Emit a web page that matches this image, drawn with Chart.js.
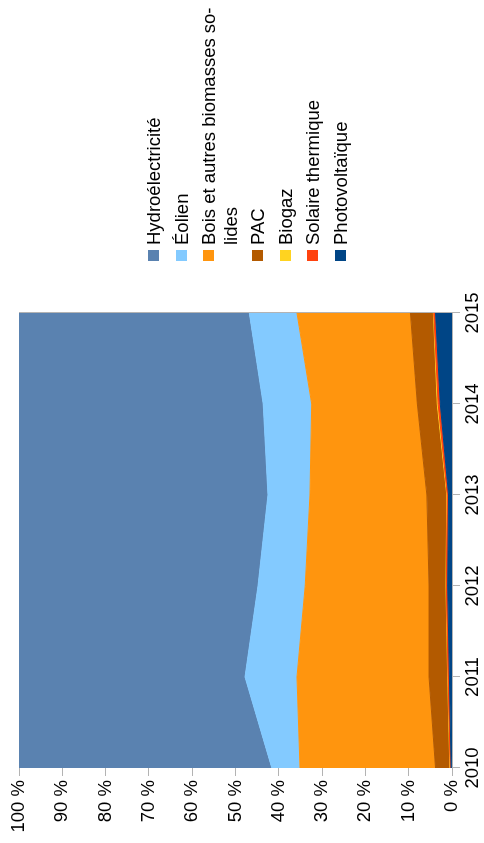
<!DOCTYPE html>
<html>
<head>
<meta charset="utf-8">
<script src="https://cdn.jsdelivr.net/npm/chart.js@4"></script>
<style>
  html, body { margin: 0; padding: 0; background: #fff; overflow: hidden; }
  body { width: 484px; height: 843px; position: relative; }
  #wrap {
    position: absolute; left: 0; top: 0;
    width: 843px; height: 484px;
    transform-origin: 0 0;
    transform: translate(0, 843px) rotate(-90deg);
    font-family: "Liberation Sans", Arial, sans-serif;
  }
  #legend { position: absolute; left: 582px; top: 143px; width: 261px; }
  .item { display: flex; align-items: flex-start; margin-bottom: 6px; }
  .box { width: 11px; height: 11px; flex: none; margin-top: 5px; margin-right: 5px; }
  .txt { width: 240px; font-size: 18.5px; line-height: 21.5px; color: #000; }
</style>
</head>
<body>
<div id="wrap">
  <canvas id="myChart" width="843" height="484"></canvas>
  <div id="legend"></div>
</div>
<script>
const years = ['2010', '2011', '2012', '2013', '2014', '2015'];
const hydro = [58.4, 52.2, 55.2, 57.5, 56.4, 53.2];
const eolien = [6.5, 12.0, 10.9, 9.7, 11.2, 11.0];
const bois = [31.3, 30.5, 28.6, 27.0, 24.4, 26.2];
const pac = [3.3, 4.3, 3.9, 4.6, 4.6, 5.3];
const biogaz = [0.1, 0.1, 0.1, 0.1, 0.2, 0.1];
const solaire = [0.2, 0.3, 0.3, 0.3, 0.5, 0.4];
const photovoltaique = [0.2, 0.6, 1.0, 0.8, 2.7, 3.8];

// bottom of the stack first
const series = [
  { label: 'Photovoltaïque', data: photovoltaique, color: '#004586' },
  { label: 'Solaire thermique', data: solaire, color: '#ff420e' },
  { label: 'Biogaz', data: biogaz, color: '#ffd320' },
  { label: 'PAC', data: pac, color: '#b35a00' },
  { label: 'Bois et autres biomasses so\u00ADlides', data: bois, color: '#ff950e' },
  { label: 'Éolien', data: eolien, color: '#83caff' },
  { label: 'Hydroélectricité', data: hydro, color: '#5a82b0' }
];

Chart.defaults.font.family = '"Liberation Sans", Arial, sans-serif';
Chart.defaults.font.size = 18.5;
Chart.defaults.color = '#000';

const ctx = document.getElementById('myChart');
new Chart(ctx, {
  type: 'line',
  data: {
    labels: years,
    datasets: series.map((s, i) => ({
      label: s.label,
      data: s.data,
      backgroundColor: s.color,
      borderColor: s.color,
      borderWidth: 1,
      pointRadius: 0,
      tension: 0,
      fill: i === 0 ? 'origin' : '-1'
    }))
  },
  options: {
    responsive: false,
    animation: false,
    layout: { padding: { top: 19, right: 313, left: 0, bottom: 0 } },
    plugins: { legend: { display: false }, tooltip: { enabled: false } },
    scales: {
      x: {
        offset: false,
        grid: { color: '#b3b3b3', tickLength: 8 },
        border: { color: '#b3b3b3' },
        ticks: { padding: 2, maxRotation: 0 },
        afterFit: s => { s.height = 32; }
      },
      y: {
        stacked: true,
        min: 0,
        max: 100,
        grid: { color: '#b3b3b3', tickLength: 8 },
        border: { color: '#b3b3b3' },
        ticks: { stepSize: 10, padding: 4, callback: v => v + ' %' },
        afterFit: s => { s.width = 75; }
      }
    }
  }
});

const legend = document.getElementById('legend');
series.slice().reverse().forEach(s => {
  const item = document.createElement('div');
  item.className = 'item';
  const box = document.createElement('div');
  box.className = 'box';
  box.style.background = s.color;
  const txt = document.createElement('div');
  txt.className = 'txt';
  txt.textContent = s.label;
  item.appendChild(box);
  item.appendChild(txt);
  legend.appendChild(item);
});
</script>
</body>
</html>
